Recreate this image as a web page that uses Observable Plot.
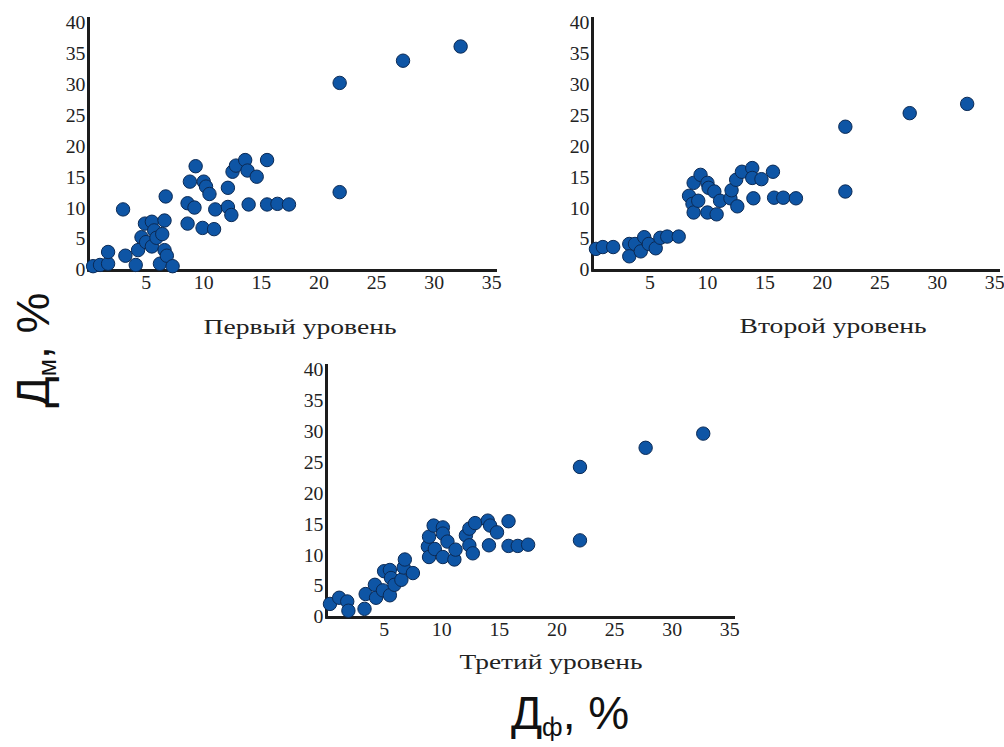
<!DOCTYPE html>
<html><head><meta charset="utf-8">
<script src="https://cdn.jsdelivr.net/npm/d3@7"></script>
<script src="https://cdn.jsdelivr.net/npm/@observablehq/plot@0.6"></script>
<style>
body{margin:0;background:#fff;}
#fig{position:relative;width:1004px;height:747px;overflow:hidden;background:#fff;}
.panel{position:absolute;}
.panel svg{overflow:visible;display:block;}
.panel svg text{font-family:"Liberation Serif","Times New Roman",Times,serif !important;}
#labels{position:absolute;left:0;top:0;pointer-events:none;}
</style></head><body>
<div id="fig"></div>
<script>
// ---- data ----
const xTicks = [5, 10, 15, 20, 25, 30, 35];
const yTicks = [0, 5, 10, 15, 20, 25, 30, 35, 40];
const panelTitles = ["Первый уровень", "Второй уровень", "Третий уровень"];
const yLabelMain = "Д", yLabelSub = "м", xLabelMain = "Д", xLabelSub = "ф", unitText = ", %";

const level1X = [0.4,1.0,1.7,1.7,3.0,3.2,4.1,4.3,4.6,4.9,5.0,5.5,5.5,5.7,5.9,6.2,6.4,6.6,6.7,6.6,6.8,7.3,8.6,8.6,8.8,9.2,9.3,9.9,10.0,10.2,10.5,10.9,11.0,12.1,12.1,12.4,12.5,12.8,13.6,13.8,13.9,14.6,15.5,15.5,16.4,17.4,21.8,21.8,27.3,32.3];
const level1Y = [0.7,0.9,1.1,3.0,9.9,2.4,0.9,3.3,5.4,7.6,4.6,3.9,7.9,6.5,5.3,1.1,5.9,8.1,12.0,3.3,2.4,0.7,10.9,7.6,14.4,10.2,16.9,6.9,14.4,13.6,12.4,6.7,9.9,10.3,13.4,9.0,16.0,17.0,17.9,16.2,10.7,15.2,17.9,10.7,10.8,10.7,12.7,30.4,34.0,36.3];

const level2X = [0.3,0.9,1.8,3.2,3.2,3.7,4.2,4.5,4.9,5.5,5.9,6.5,7.5,8.4,8.7,8.8,8.8,9.2,9.4,10.0,10.0,10.1,10.6,10.8,11.1,12.0,12.1,12.5,12.6,13.0,13.9,13.9,14.0,14.7,15.7,15.8,16.6,17.7,22.0,22.0,27.6,32.6];
const level2Y = [3.5,3.8,3.8,4.3,2.3,4.3,3.1,5.4,4.3,3.6,5.3,5.5,5.5,12.1,10.8,9.4,14.2,11.3,15.5,14.2,9.4,13.4,12.8,9.1,11.3,11.7,13.0,14.7,10.4,16.0,16.6,15.0,11.7,14.8,16.0,11.8,11.8,11.7,23.3,12.8,25.5,27.0];

const level3X = [0.3,1.1,1.8,1.9,3.3,3.4,4.2,4.3,4.9,5.0,5.5,5.5,5.6,5.9,6.5,6.7,6.8,7.5,8.8,8.9,8.9,9.3,9.4,10.1,10.1,10.1,10.5,11.1,11.2,12.1,12.4,12.4,12.7,12.9,14.0,14.1,14.2,14.8,15.8,15.8,16.6,17.5,22.0,22.0,27.7,32.7];
const level3Y = [2.2,3.2,2.6,1.1,1.4,3.8,5.3,3.2,4.4,7.5,7.7,3.6,6.4,5.3,6.1,8.1,9.4,7.2,11.5,9.8,13.1,14.9,11.1,14.6,13.6,9.8,12.3,9.4,11.0,13.3,14.4,11.7,10.4,15.3,15.7,11.7,14.9,13.8,15.6,11.6,11.6,11.8,12.5,24.4,27.5,29.8];

// ---- drawing ----
const fig = document.getElementById("fig");
const SERIF = '"Liberation Serif", "Times New Roman", Times, serif';

function panel(xs, ys, cfg) {
  const data = xs.map((x, i) => ({x, y: ys[i]}));
  const p = Plot.plot({
    width: cfg.width, height: cfg.height,
    marginLeft: cfg.ml, marginRight: cfg.mr, marginTop: cfg.mt, marginBottom: cfg.mb,
    style: {fontFamily: SERIF, fontSize: "18px", color: "#222", background: "transparent", overflow: "visible"},
    x: {domain: [0, 35.5], ticks: xTicks, tickSize: 0, tickPadding: 6, label: null},
    y: {domain: [0, 41], ticks: yTicks, tickSize: 0, tickPadding: 3, label: null},
    marks: [
      Plot.ruleX([0], {y1: -0.3, y2: 41, stroke: "#1c1c1c", strokeWidth: 3}),
      Plot.ruleY([0], {stroke: "#1c1c1c", strokeWidth: 3}),
      Plot.dot(data, {x: "x", y: "y", r: 6.7, fill: "#0e55a5", stroke: "#0b2a55", strokeWidth: 1})
    ]
  });
  p.style.fontFamily = SERIF;
  p.style.fontSize = "18px";
  const wrap = document.createElement("div");
  wrap.className = "panel";
  wrap.style.left = cfg.left + "px";
  wrap.style.top = cfg.top + "px";
  wrap.appendChild(p);
  fig.appendChild(wrap);
  p.querySelectorAll('[aria-label$="tick label"]').forEach(g => {
    g.setAttribute("font-family", SERIF);
    g.setAttribute("font-size", 18);
  });
  p.querySelectorAll('[aria-label$="tick label"] text').forEach(t => {
    const L = t.getComputedTextLength();
    t.setAttribute("textLength", (L * 1.1).toFixed(1));
    t.setAttribute("lengthAdjust", "spacingAndGlyphs");
  });
}

panel(level1X, level1Y, {left: 0, top: 0, width: 520, height: 290, ml: 88, mr: 23, mt: 17, mb: 20});
panel(level2X, level2Y, {left: 500, top: 0, width: 504, height: 290, ml: 92, mr: 4, mt: 17, mb: 20});
panel(level3X, level3Y, {left: 240, top: 340, width: 520, height: 300, ml: 86, mr: 25, mt: 24, mb: 23});

// ---- titles & axis labels ----
const NS = "http://www.w3.org/2000/svg";
const svg = document.createElementNS(NS, "svg");
svg.setAttribute("id", "labels");
svg.setAttribute("width", 1004);
svg.setAttribute("height", 747);
fig.appendChild(svg);

const titlePos = [{x: 300, y: 334, len: 193}, {x: 833, y: 333, len: 187}, {x: 551, y: 669, len: 183}];
panelTitles.forEach((t, i) => {
  const e = document.createElementNS(NS, "text");
  e.setAttribute("x", titlePos[i].x);
  e.setAttribute("y", titlePos[i].y);
  e.setAttribute("text-anchor", "middle");
  e.setAttribute("font-family", SERIF);
  e.setAttribute("font-size", 21);
  e.setAttribute("fill", "#222");
  e.setAttribute("textLength", titlePos[i].len);
  e.setAttribute("lengthAdjust", "spacingAndGlyphs");
  e.textContent = t;
  svg.appendChild(e);
});

function bigLabel(main, sub, transform) {
  const e = document.createElementNS(NS, "text");
  e.setAttribute("transform", transform);
  e.setAttribute("text-anchor", "middle");
  e.setAttribute("font-family", '"Liberation Sans", Arial, sans-serif');
  e.setAttribute("font-size", 46);
  e.setAttribute("fill", "#111");
  const a = document.createElementNS(NS, "tspan"); a.textContent = main;
  const b = document.createElementNS(NS, "tspan"); b.textContent = sub;
  b.setAttribute("font-size", 25); b.setAttribute("dy", 7);
  const c = document.createElementNS(NS, "tspan"); c.textContent = unitText;
  c.setAttribute("dy", -7);
  e.append(a, b, c);
  svg.appendChild(e);
}
bigLabel(yLabelMain, yLabelSub, "translate(49,350) rotate(-90)");
bigLabel(xLabelMain, xLabelSub, "translate(570,729)");
</script>
</body></html>
